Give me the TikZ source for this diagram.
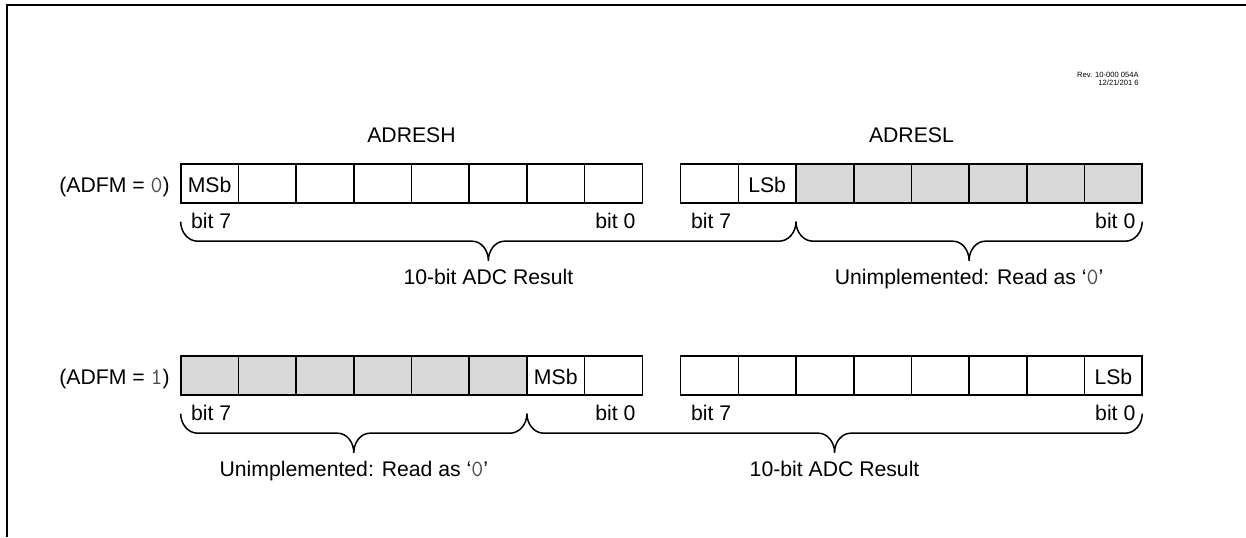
\documentclass[tikz,border=0pt]{standalone}
\usepackage{fontspec}
\setmainfont{Liberation Sans}
\usetikzlibrary{calc}
\newcommand\regfont{\fontsize{10.6}{12.7}\selectfont}
\newcommand\bitval[1]{{\ttfamily\fontsize{11.6}{12.7}\selectfont\color{black!70}#1}}
\tikzset{
  cell/.style={
    rectangle, draw=black, line width=0.8pt, fill=white,
    minimum width=28.85pt, minimum height=19.35pt,
    inner sep=0pt, outer sep=0pt,
    text height=9.3pt, text depth=0pt, font=\regfont,
  },
  unimpl/.style={cell, fill=black!15},
  reglabel/.style={font=\regfont, inner sep=0pt},
  bitlabel/.style={font=\regfont, inner sep=0pt},
  bracelabel/.style={font=\regfont, inner sep=0pt},
  brace line/.style={line width=0.75pt, draw=black},
  frame line/.style={line width=1.2pt, draw=black},
  revnote/.style={font=\fontsize{3.8}{4}\selectfont, inner sep=0pt},
}
% name, from, to, text
\newcommand\regbrace[4]{%
  \coordinate (#1-tip) at ($(#2)!0.5!(#3)+(0,39)$);
  \draw[brace line] (#2) .. controls +(0,10.7) and +(-9.4,0) .. ($(#2)+(17,19.5)$)
    -- ($(#1-tip)+(-16,-19.5)$) .. controls +(8.8,0) and +(0,-10.7) .. (#1-tip)
    .. controls +(0,-10.7) and +(-8.8,0) .. ($(#1-tip)+(16,-19.5)$)
    -- ($(#3)+(-17,19.5)$) .. controls +(9.4,0) and +(0,10.7) .. (#3);
  \node[bracelabel, anchor=base] (#1) at ($(#1-tip)+(0,24)$) {#4};
}

\begin{document}
\begin{tikzpicture}[x=0.5pt, y=-0.5pt]
  \useasboundingbox (0,0) rectangle (1246,537);
  \draw[frame line] (6.8,537) -- (6.8,5) -- (1246,5);

  \node[revnote, anchor=base east] (rev) at (1139,77) {Rev. 10-000 054A};
  \node[revnote, anchor=base east] (revdate) at (1139,85) {12/21/201 6};

  % ADFM = 0
  \foreach \s/\t [count=\i from 0] in {cell/MSb, cell/{}, cell/{}, cell/{}, cell/{}, cell/{}, cell/{}, cell/{}}
    \node[\s] (a-h\i) at ({209.55+57.7*\i}, 183.35) {\t};
  \foreach \s/\t [count=\i from 0] in {cell/{}, cell/LSb, unimpl/{}, unimpl/{}, unimpl/{}, unimpl/{}, unimpl/{}, unimpl/{}}
    \node[\s] (a-l\i) at ({709.45+57.7*\i}, 183.35) {\t};

  % ADFM = 1
  \foreach \s/\t [count=\i from 0] in {unimpl/{}, unimpl/{}, unimpl/{}, unimpl/{}, unimpl/{}, unimpl/{}, cell/MSb, cell/{}}
    \node[\s] (b-h\i) at ({209.55+57.7*\i}, 375.35) {\t};
  \foreach \s/\t [count=\i from 0] in {cell/{}, cell/{}, cell/{}, cell/{}, cell/{}, cell/{}, cell/{}, cell/LSb}
    \node[\s] (b-l\i) at ({709.45+57.7*\i}, 375.35) {\t};

  \node[reglabel, anchor=base] (adresh) at ($(a-h0.north west)!0.5!(a-h7.north east)+(0,-22)$) {ADRESH};
  \node[reglabel, anchor=base] (adresl) at ($(a-l0.north west)!0.5!(a-l7.north east)+(0,-22)$) {ADRESL};

  \node[reglabel, anchor=base east] (mode-a) at ($(a-h0.west)+(-10.7,9.3)$) {(ADFM = \bitval{0})};
  \node[reglabel, anchor=base east] (mode-b) at ($(b-h0.west)+(-10.7,9.3)$) {(ADFM = \bitval{1})};

  \foreach \r in {a,b} {
    \node[bitlabel, anchor=base west] (\r-h7lbl) at ($(\r-h0.south west)+(10,25.3)$) {bit 7};
    \node[bitlabel, anchor=base east] (\r-h0lbl) at ($(\r-h7.south east)+(-6.5,25.3)$) {bit 0};
    \node[bitlabel, anchor=base west] (\r-l7lbl) at ($(\r-l0.south west)+(10,25.3)$) {bit 7};
    \node[bitlabel, anchor=base east] (\r-l0lbl) at ($(\r-l7.south east)+(-6.5,25.3)$) {bit 0};
  }

  \coordinate (a-b0) at ($(a-h0.south west)+(0,19)$);
  \coordinate (a-b1) at ($(a-l1.south east)+(0,19)$);
  \coordinate (a-b2) at ($(a-l7.south east)+(0,19)$);
  \coordinate (b-b0) at ($(b-h0.south west)+(0,19)$);
  \coordinate (b-b1) at ($(b-h6.south west)+(0,19)$);
  \coordinate (b-b2) at ($(b-l7.south east)+(0,19)$);

  \regbrace{a-result}{a-b0}{a-b1}{10-bit ADC Result}
  \regbrace{a-unused}{a-b1}{a-b2}{Unimplemented: Read as `\bitval{0}'}
  \regbrace{b-unused}{b-b0}{b-b1}{Unimplemented: Read as `\bitval{0}'}
  \regbrace{b-result}{b-b1}{b-b2}{10-bit ADC Result}
\end{tikzpicture}
\end{document}
